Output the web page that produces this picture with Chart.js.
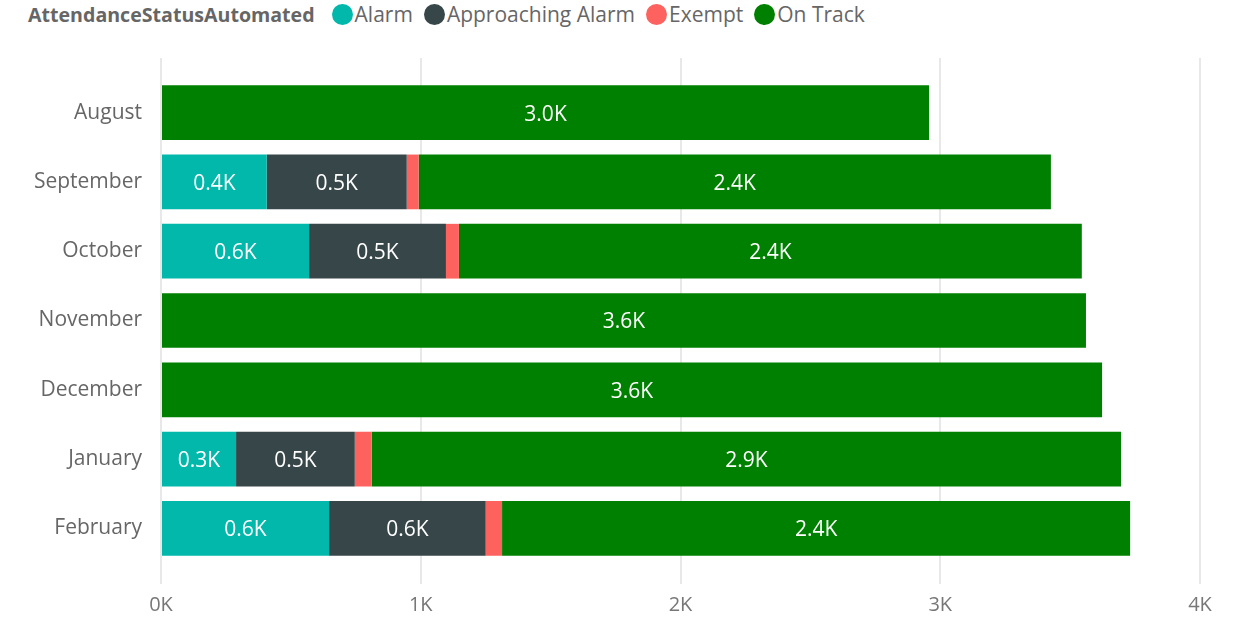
<!DOCTYPE html>
<html>
<head>
<meta charset="utf-8">
<script src="https://cdn.jsdelivr.net/npm/chart.js@4.4.1/dist/chart.umd.min.js"></script>
<style>
  html, body { margin: 0; padding: 0; background: #fff; }
  body { width: 1236px; height: 621px; position: relative; overflow: hidden; font-family: "Segoe UI", "Open Sans", sans-serif; }
  #legend { position: absolute; top: 2px; left: 28px; height: 24px; display: flex; align-items: center; font-size: 21px; color: #666; white-space: nowrap; }
  #legend .title { font-weight: bold; font-size: 19.6px; margin-right: 17px; }
  #legend .item { display: flex; align-items: center; margin-right: 11px; }
  #legend .dot { width: 21px; height: 21px; border-radius: 50%; margin-right: 2px; }
  #chartWrap { position: absolute; left: 0; top: 0; width: 1236px; height: 621px; }
</style>
</head>
<body>
<div id="legend"></div>
<div id="chartWrap"><canvas id="attendanceChart" width="1236" height="621"></canvas></div>
<script>
// months on the y axis
const months = ['August', 'September', 'October', 'November', 'December', 'January', 'February'];

// counts per status
const alarm       = [0, 407, 570, 0, 0, 289, 647];
const approaching = [0, 539, 527, 0, 0, 457, 603];
const exempt      = [0, 46, 50, 0, 0, 65, 63];
const onTrack     = [2957, 2434, 2398, 3561, 3623, 2885, 2418];

const statusNames  = ['Alarm', 'Approaching Alarm', 'Exempt', 'On Track'];
const statusColors = ['#01B8AA', '#374649', '#FD625E', '#008000'];

const xTicks = [0, 1000, 2000, 3000, 4000];
const fontFamily = '"Segoe UI", "Open Sans", sans-serif';

// legend with the field name in front, like Power BI
const legendEl = document.getElementById('legend');
legendEl.innerHTML = '<span class="title">AttendanceStatusAutomated</span>' +
  statusNames.map((n, i) =>
    '<span class="item"><span class="dot" style="background:' + statusColors[i] + '"></span>' + n + '</span>'
  ).join('');

// white value labels in the middle of each segment that is wide enough
const barLabels = {
  id: 'barLabels',
  afterDatasetsDraw(chart) {
    const ctx = chart.ctx;
    ctx.save();
    ctx.font = '21px ' + fontFamily;
    ctx.fillStyle = '#fff';
    ctx.textAlign = 'center';
    ctx.textBaseline = 'middle';
    chart.data.datasets.forEach((ds, di) => {
      chart.getDatasetMeta(di).data.forEach((bar, i) => {
        const v = ds.data[i];
        if (!v) return;
        const text = (v / 1000).toFixed(1) + 'K';
        const w = Math.abs(bar.x - bar.base);
        if (ctx.measureText(text).width + 10 > w) return;
        ctx.fillText(text, (bar.x + bar.base) / 2, bar.y + 2);
      });
    });
    ctx.restore();
  }
};

const ctx = document.getElementById('attendanceChart');
new Chart(ctx, {
  type: 'bar',
  data: {
    labels: months,
    datasets: [alarm, approaching, exempt, onTrack].map((d, i) => ({
      label: statusNames[i],
      data: d,
      backgroundColor: statusColors[i],
      borderWidth: 0,
      categoryPercentage: 1,
      barPercentage: 0.79
    }))
  },
  options: {
    indexAxis: 'y',
    responsive: false,
    animation: false,
    layout: { padding: { top: 58, right: 36, left: 0, bottom: 0 } },
    plugins: {
      legend: { display: false },
      tooltip: { enabled: false }
    },
    scales: {
      x: {
        stacked: true,
        min: 0,
        max: 4000,
        afterBuildTicks: s => { s.ticks = xTicks.map(v => ({ value: v })); },
        afterFit: s => { s.height = 58; },
        border: { display: false },
        grid: { color: '#e8e8e8', lineWidth: 2, tickLength: 21 },
        ticks: { color: '#777', font: { family: fontFamily, size: 20 }, padding: 9, callback: v => (v / 1000) + 'K' }
      },
      xTop: {
        position: 'top',
        axis: 'x',
        min: 0,
        max: 4000,
        afterBuildTicks: s => { s.ticks = xTicks.map(v => ({ value: v })); },
        border: { display: false },
        grid: { color: '#e8e8e8', lineWidth: 2, tickLength: 20, drawOnChartArea: false },
        ticks: { display: false }
      },
      y: {
        stacked: true,
        afterFit: s => { s.width = 161; },
        border: { display: false },
        grid: { display: false, drawTicks: false },
        ticks: { color: '#666', font: { family: fontFamily, size: 21 }, padding: 19 }
      }
    }
  },
  plugins: [barLabels]
});
</script>
</body>
</html>
